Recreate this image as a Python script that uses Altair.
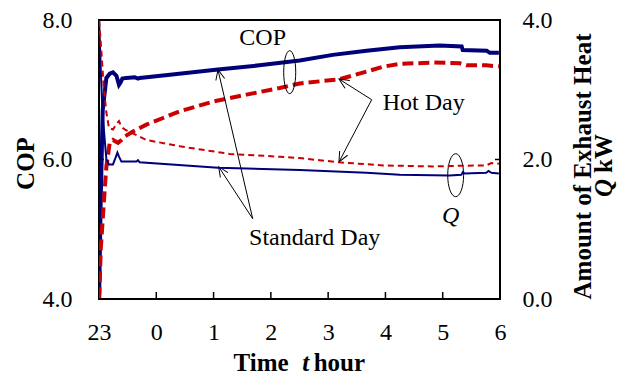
import math
import altair as alt
import pandas as pd

# ---------------- data (time in hours after 23:00: 0 -> 23 h, 7 -> 6 h) ----------------
x_tick_labels = ["23", "0", "1", "2", "3", "4", "5", "6"]

std_cop_t = [0.003, 0.03, 0.065, 0.129, 0.187, 0.244, 0.304, 0.349, 0.374, 0.408,
             0.478, 0.623, 0.681, 0.71, 1.2, 2.077, 2.8, 3.503, 4.08, 4.67,
             5.25, 5.947, 6.331, 6.349, 6.768, 6.821, 6.98]
std_cop = [4.06, 5.42, 6.71, 7.17, 7.23, 7.25, 7.20, 7.07, 7.10, 7.16,
           7.17, 7.18, 7.16, 7.17, 7.21, 7.29, 7.35, 7.42, 7.50, 7.56,
           7.61, 7.635, 7.62, 7.57, 7.56, 7.53, 7.53]

std_q_t = [0.003, 0.035, 0.059, 0.100, 0.129, 0.175, 0.244, 0.291, 0.321, 0.349,
           0.391, 0.653, 0.681, 0.710, 2.077, 3.503, 4.668, 5.25, 6.12, 6.326,
           6.353, 6.383, 6.76, 6.80, 6.85, 6.98]
std_q = [3.99, 3.2, 2.71, 2.28, 2.00, 1.93, 1.93, 2.03, 2.10, 2.04,
         1.97, 1.97, 1.99, 1.96, 1.88, 1.85, 1.81, 1.78, 1.77, 1.78,
         1.82, 1.80, 1.81, 1.835, 1.81, 1.80]

hot_cop_t = [0.005, 0.03, 0.10, 0.129, 0.187, 0.244, 0.332, 0.391, 0.449, 0.593,
             0.827, 1.117, 1.409, 1.99, 2.573, 3.154, 3.503, 4.19, 4.67, 4.957,
             5.25, 5.83, 6.296, 6.413, 6.76, 6.98]
hot_cop = [4.01, 4.71, 5.57, 5.90, 6.24, 6.28, 6.24, 6.28, 6.33, 6.40,
           6.50, 6.595, 6.69, 6.83, 6.93, 7.025, 7.09, 7.15, 7.26, 7.33,
           7.37, 7.39, 7.38, 7.35, 7.35, 7.335]

hot_q_t = [0.003, 0.04, 0.082, 0.129, 0.175, 0.244, 0.314, 0.349, 0.391, 0.449,
           0.827, 1.409, 2.28, 3.154, 3.503, 4.19, 4.957, 5.83, 6.296, 6.76,
           6.85, 6.98]
hot_q = [3.99, 3.57, 3.05, 2.67, 2.45, 2.43, 2.52, 2.55, 2.47, 2.43,
         2.28, 2.19, 2.08, 2.04, 2.02, 1.96, 1.915, 1.90, 1.91, 1.915,
         1.95, 1.94]

# annotations (in data coordinates of the COP axis)
label_text = ["COP", "Hot Day", "Standard Day"]
label_t = [2.857, 5.668, 3.765]
label_cop = [7.646, 6.713, 4.778]
q_label_t = [6.139]
q_label_cop = [5.094]

arrow_t0 = [2.683, 2.683, 4.760, 4.760]
arrow_c0 = [5.151, 5.151, 6.857, 6.857]
arrow_t1 = [2.077, 2.089, 4.189, 4.189]
arrow_c1 = [7.287, 5.897, 7.154, 5.964]

ellipse_t = [3.329, 6.226]
ellipse_cop = [7.252, 5.775]

bottom_tick_t = [1, 2, 3, 4, 5, 6]
side_tick_cop = [6]

# ---------------- styling ----------------
FONT = "Liberation Serif"
NAVY = "#00007a"
RED = "#cc0000"
W, H = 401, 279
X_DOM = [0, 7]
COP_DOM = [4, 8]
Q_DOM = [0, 4]
PX_X = W / (X_DOM[1] - X_DOM[0])
PX_Y = H / (COP_DOM[1] - COP_DOM[0])
TICK_B = 7 / PX_Y
TICK_S = 5 / PX_X

x_scale = alt.Scale(domain=X_DOM, nice=False, zero=False)
cop_scale = alt.Scale(domain=COP_DOM, nice=False, zero=False)
q_scale = alt.Scale(domain=Q_DOM, nice=False, zero=False)

label_expr = "[" + ",".join("'%s'" % s for s in x_tick_labels) + "][datum.value]"
x_axis = alt.Axis(values=list(range(8)), labelExpr=label_expr, ticks=False, domain=False,
                  grid=False, labelFont=FONT, labelFontSize=24, labelColor="black",
                  labelPadding=21, labelFlush=False, labelOverlap=False, title=None)
cop_axis = alt.Axis(values=[4, 6, 8], format=".1f", ticks=False, domain=False, grid=False,
                    labelFont=FONT, labelFontSize=24, labelColor="black", labelPadding=27,
                    labelFlush=False, labelOverlap=False,
                    title="COP", titleFont=FONT, titleFontSize=25, titleFontWeight="bold",
                    titleColor="black", titleX=-66, titleY=143, titleAngle=270,
                    titleBaseline="alphabetic", titleAlign="center")
q_axis = alt.Axis(orient="right", values=[0, 2, 4], format=".1f", ticks=False, domain=False,
                  grid=False, labelFont=FONT, labelFontSize=24, labelColor="black",
                  labelPadding=22, labelFlush=False, labelOverlap=False,
                  title="Amount of Exhaust Heat", titleFont=FONT, titleFontSize=25,
                  titleFontWeight="bold", titleColor="black", titleX=90, titleY=146,
                  titleAngle=270, titleBaseline="alphabetic", titleAlign="center")


def xenc(field):
    return alt.X(field, type="quantitative", scale=x_scale, axis=x_axis)


def cop_enc(field):
    return alt.Y(field, type="quantitative", scale=cop_scale, axis=cop_axis)


def q_enc(field):
    return alt.Y(field, type="quantitative", scale=q_scale, axis=q_axis)


# ---------------- COP group ----------------
std_cop_line = alt.Chart(pd.DataFrame({"t": std_cop_t, "v": std_cop})).mark_line(
    color=NAVY, strokeWidth=4, clip=True).encode(x=xenc("t"), y=cop_enc("v"))

hot_cop_line = alt.Chart(pd.DataFrame({"t": hot_cop_t, "v": hot_cop})).mark_line(
    color=RED, strokeWidth=4, strokeDash=[11, 5], clip=True).encode(x=xenc("t"), y=cop_enc("v"))

btick = alt.Chart(pd.DataFrame({"t": bottom_tick_t})).transform_calculate(
    c0=str(COP_DOM[0]), c1=str(COP_DOM[0] + TICK_B)).mark_rule(
    color="black", strokeWidth=1.5).encode(x=xenc("t"), y=cop_enc("c0"), y2="c1:Q")

ltick = alt.Chart(pd.DataFrame({"c": side_tick_cop})).transform_calculate(
    t0=str(X_DOM[0]), t1=str(X_DOM[0] + TICK_S)).mark_rule(
    color="black", strokeWidth=1.5).encode(x=xenc("t0"), x2="t1:Q", y=cop_enc("c"))

rtick = alt.Chart(pd.DataFrame({"c": side_tick_cop})).transform_calculate(
    t0=str(X_DOM[1] - TICK_S), t1=str(X_DOM[1])).mark_rule(
    color="black", strokeWidth=1.5).encode(x=xenc("t0"), x2="t1:Q", y=cop_enc("c"))

labels = alt.Chart(pd.DataFrame({"t": label_t, "c": label_cop, "s": label_text})).mark_text(
    font=FONT, fontSize=24, color="black", align="center", baseline="alphabetic").encode(
    x=xenc("t"), y=cop_enc("c"), text="s:N")

q_label = alt.Chart(pd.DataFrame({"t": q_label_t, "c": q_label_cop})).mark_text(
    font=FONT, fontSize=24, fontStyle="italic", color="black", align="center",
    baseline="alphabetic", text="Q").encode(x=xenc("t"), y=cop_enc("c"))

arrow_df = pd.DataFrame({"t0": arrow_t0, "c0": arrow_c0, "t1": arrow_t1, "c1": arrow_c1})
arrow_df["ang"] = [
    math.degrees(math.atan2((b - a) * PX_X, (d - c) * PX_Y)) % 360
    for a, b, c, d in zip(arrow_t0, arrow_t1, arrow_c0, arrow_c1)
]
arrows = alt.Chart(arrow_df).mark_rule(color="black", strokeWidth=1).encode(
    x=xenc("t0"), x2="t1", y=cop_enc("c0"), y2="c1")
ARROW_HEAD = "M -0.45 1 L 0 0 L 0.45 1"
heads = alt.Chart(arrow_df).mark_point(shape=ARROW_HEAD, size=400, filled=False,
                                        stroke="black", strokeWidth=1, opacity=1).encode(
    x=xenc("t1"), y=cop_enc("c1"), angle=alt.Angle("ang:Q", scale=None))


def ellipse_path(a):
    k = 0.5523
    return ("M 0 -1 C {ka} -1 {a} {nk} {a} 0 C {a} {k} {ka} 1 0 1 "
            "C {nka} 1 {na} {k} {na} 0 C {na} {nk} {nka} -1 0 -1 Z").format(
        ka=k * a, a=a, nk=-k, k=k, nka=-k * a, na=-a)


ell1 = alt.Chart(pd.DataFrame({"t": ellipse_t[:1], "c": ellipse_cop[:1]})).mark_point(
    shape=ellipse_path(0.28), size=1849, filled=False, stroke="black", strokeWidth=1,
    opacity=1).encode(x=xenc("t"), y=cop_enc("c"))
ell2 = alt.Chart(pd.DataFrame({"t": ellipse_t[1:], "c": ellipse_cop[1:]})).mark_point(
    shape=ellipse_path(0.37), size=1849, filled=False, stroke="black", strokeWidth=1,
    opacity=1).encode(x=xenc("t"), y=cop_enc("c"))

one = pd.DataFrame({"a": [0]})


def title_piece(txt, x, y, align, style="normal", angle=0):
    return alt.Chart(one).mark_text(
        text=txt, font=FONT, fontSize=25, fontWeight="bold", fontStyle=style,
        color="black", align=align, baseline="alphabetic", angle=angle).encode(
        x=alt.value(x), y=alt.value(y))


xt1 = title_piece("Time", 189.7, 351, "right")
xt2 = title_piece("t", 206.7, 351, "center", "italic")
xt3 = title_piece("hour", 214.7, 351, "left")
rt1 = title_piece("Q", 512.7, 177, "left", "italic", 270)
rt2 = title_piece("kW", 512.7, 153, "left", "normal", 270)

cop_group = alt.layer(std_cop_line, hot_cop_line, btick, ltick, rtick, arrows, heads,
                      ell1, ell2, labels, q_label, xt1, xt2, xt3, rt1, rt2)

# ---------------- Q group ----------------
std_q_line = alt.Chart(pd.DataFrame({"t": std_q_t, "q": std_q})).mark_line(
    color=NAVY, strokeWidth=2, clip=True).encode(x=xenc("t"), y=q_enc("q"))
hot_q_line = alt.Chart(pd.DataFrame({"t": hot_q_t, "q": hot_q})).mark_line(
    color=RED, strokeWidth=2, strokeDash=[6, 4], clip=True).encode(x=xenc("t"), y=q_enc("q"))
q_group = alt.layer(std_q_line, hot_q_line)

chart = alt.layer(cop_group, q_group).resolve_scale(y="independent").properties(
    width=W, height=H,
    autosize=alt.AutoSizeParams(type="none"),
    padding={"left": 91, "top": 12, "right": 119, "bottom": 78},
    background="white",
).configure_view(stroke="black", strokeWidth=2)

chart.save("out.html", embed_options={"renderer": "svg", "actions": False})
